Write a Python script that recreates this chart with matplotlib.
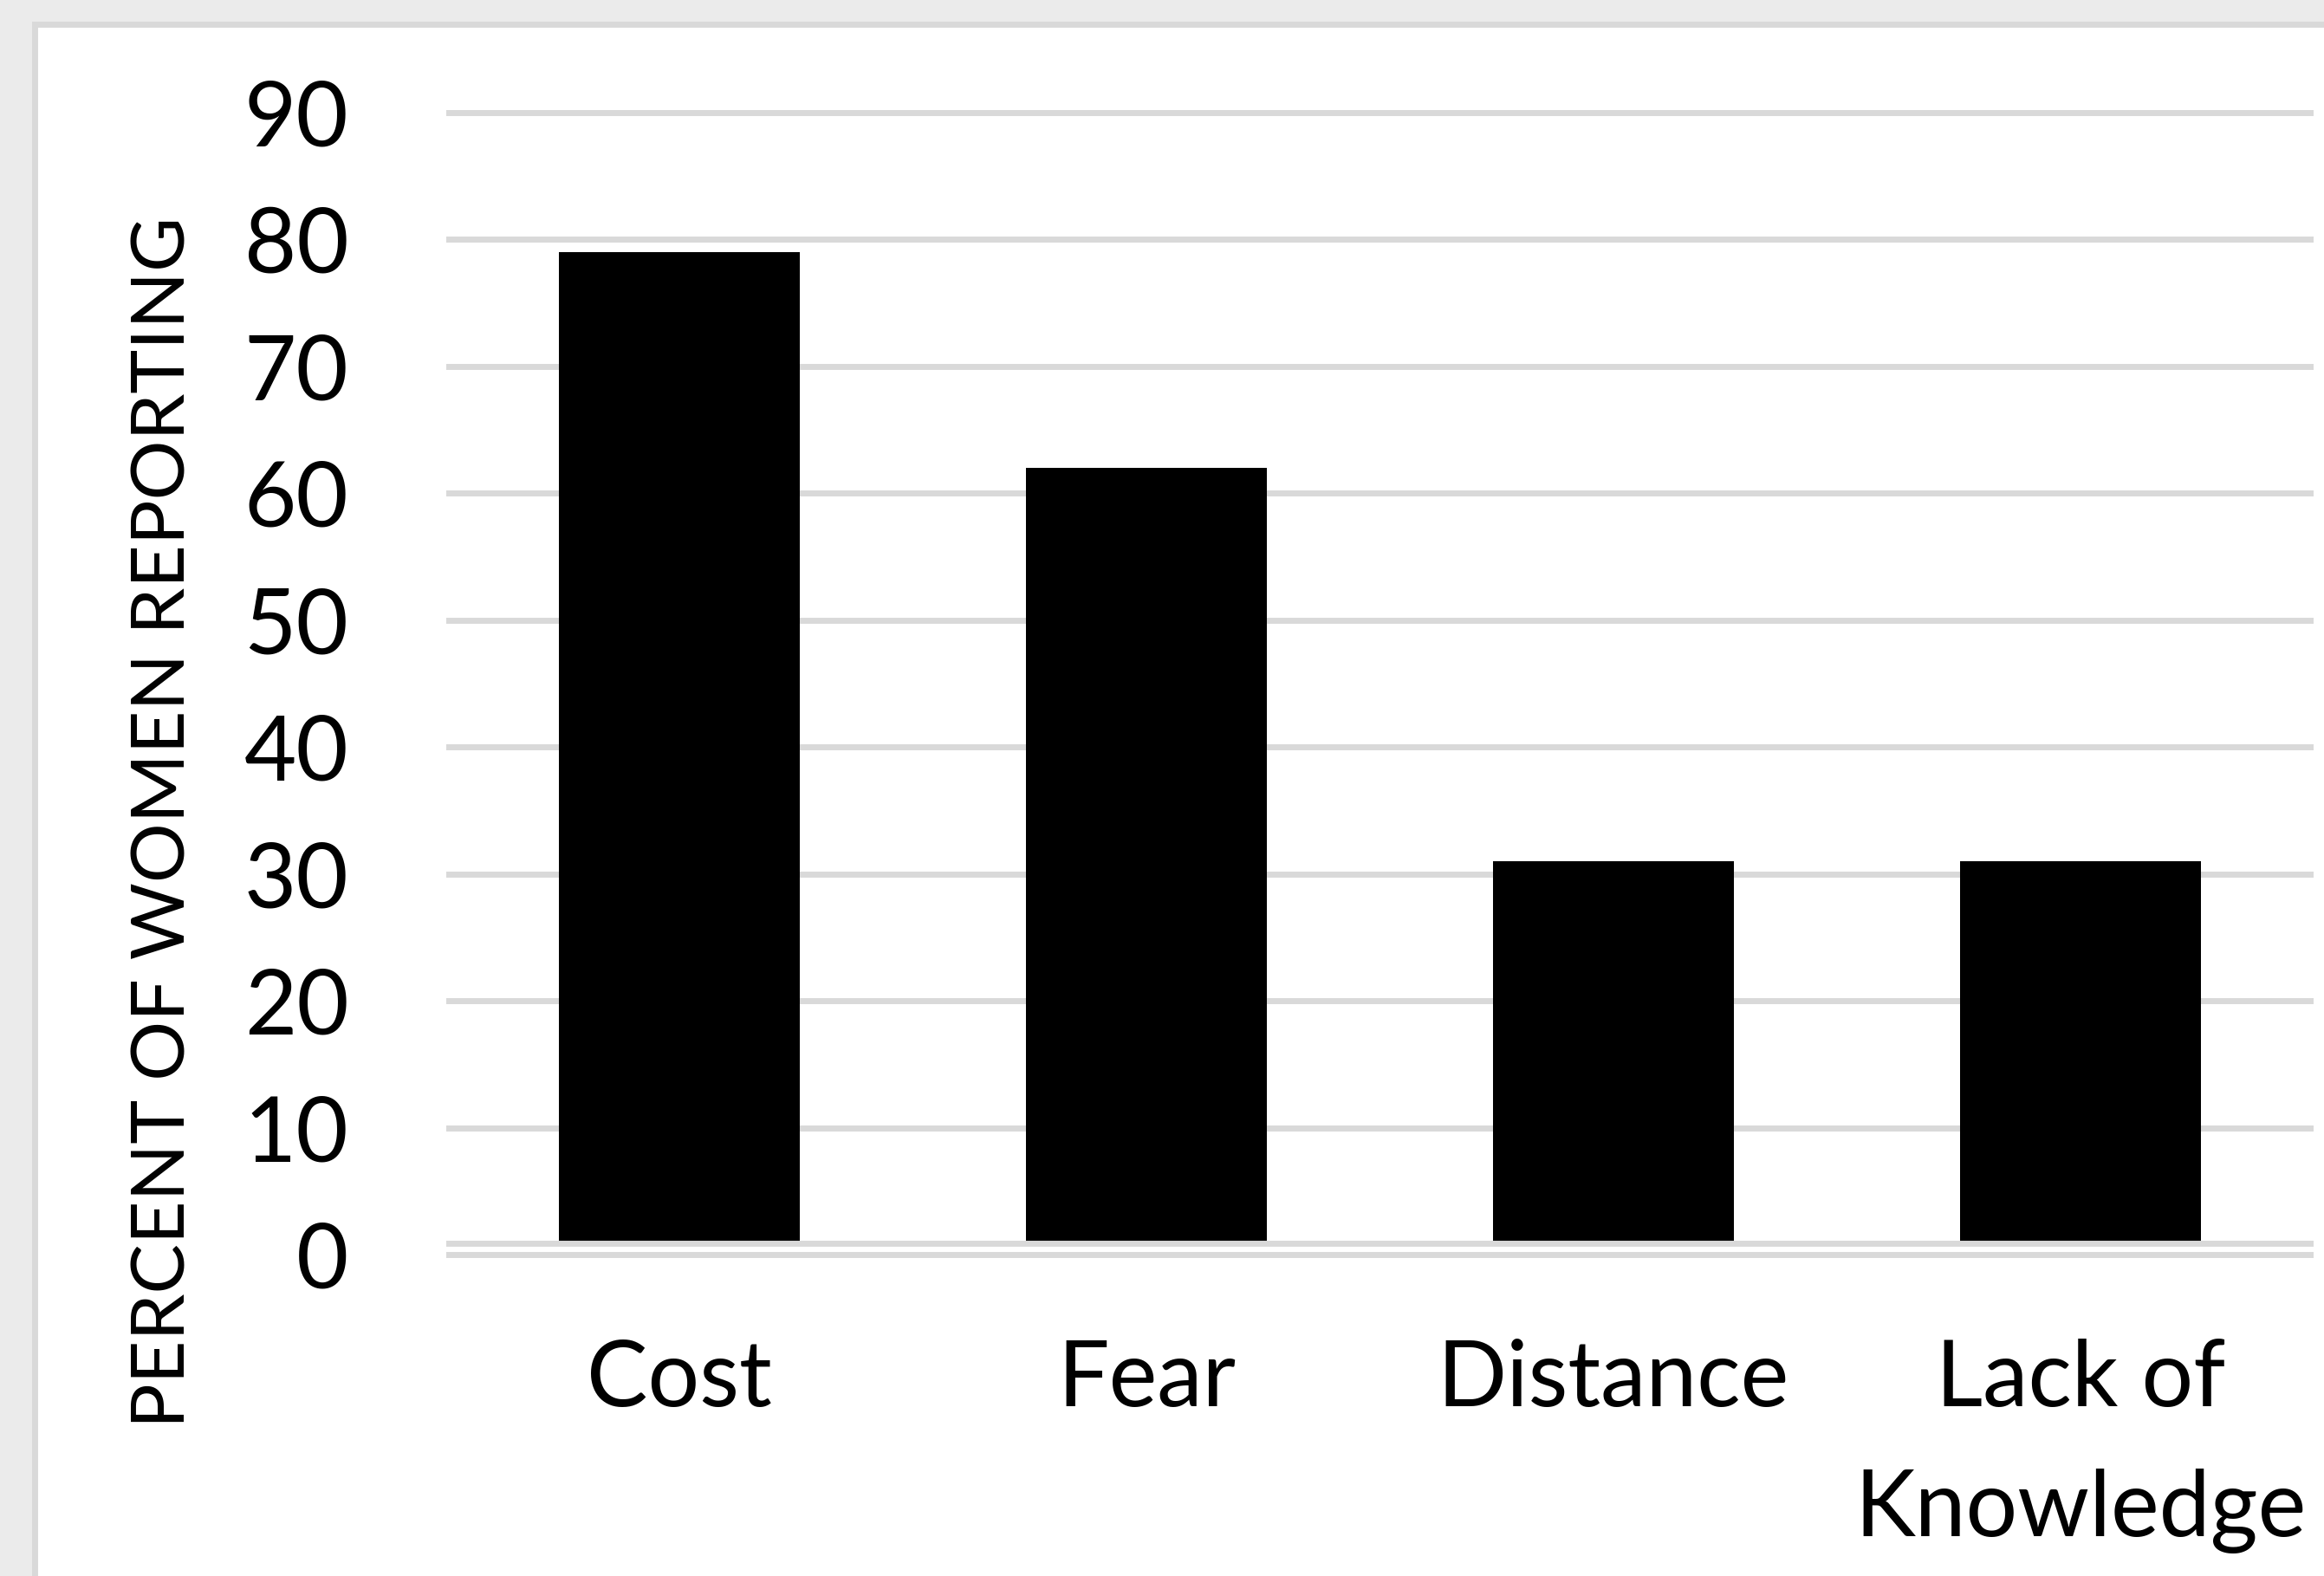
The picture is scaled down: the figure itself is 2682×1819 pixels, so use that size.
import matplotlib
matplotlib.use("Agg")
import matplotlib.pyplot as plt
from matplotlib.patches import Rectangle

# data
categories = ["Cost", "Fear", "Distance", "Lack of\nKnowledge"]
percent = [79, 62, 31, 31]
y_ticks = [0, 10, 20, 30, 40, 50, 60, 70, 80, 90]
y_label = "PERCENT OF WOMEN REPORTING"

W, H = 2682, 1819
plt.rcParams["font.family"] = ["Lato", "DejaVu Sans"]

fig = plt.figure(figsize=(W / 100, H / 100), dpi=100, facecolor="#ebebeb")

# white chart panel with a light grey border (runs off the right/bottom edge)
panel = Rectangle((39.5 / W, -0.1), 1.2, 1 - 28.5 / H + 0.1,
                  transform=fig.transFigure, facecolor="white",
                  edgecolor="#d9d9d9", linewidth=5, zorder=-1)
fig.patches.append(panel)

ax = fig.add_axes([515 / W, (H - 1455.8) / H, 2155 / W, 1333.6 / H])
ax.set_facecolor("none")

base = 0.95  # where the category axis line sits
x = range(len(categories))
ax.bar(x, [p - base for p in percent], bottom=base, width=0.516,
       color="black", zorder=2)
ax.axhline(base, color="#d9d9d9", linewidth=5, zorder=3)

ax.set_xlim(-0.5, len(categories) - 0.5)
ax.set_ylim(-0.5, 90.5)
ax.set_yticks(y_ticks)
ax.set_xticks(list(x))
ax.set_xticklabels(categories, linespacing=1.7)
ax.grid(axis="y", color="#d9d9d9", linewidth=5, zorder=1)
ax.set_axisbelow(True)
for s in ax.spines.values():
    s.set_visible(False)
ax.tick_params(axis="y", length=0, pad=81, labelsize=75)
ax.tick_params(axis="x", length=0, pad=64, labelsize=76)

ax.set_ylabel(y_label, fontsize=62)
ax.yaxis.label.set_verticalalignment("center")
ax.yaxis.set_label_coords((190 - 515) / 2155, (1455.8 - 949) / 1333.6)

fig.savefig("out.png", dpi=100, facecolor=fig.get_facecolor())
